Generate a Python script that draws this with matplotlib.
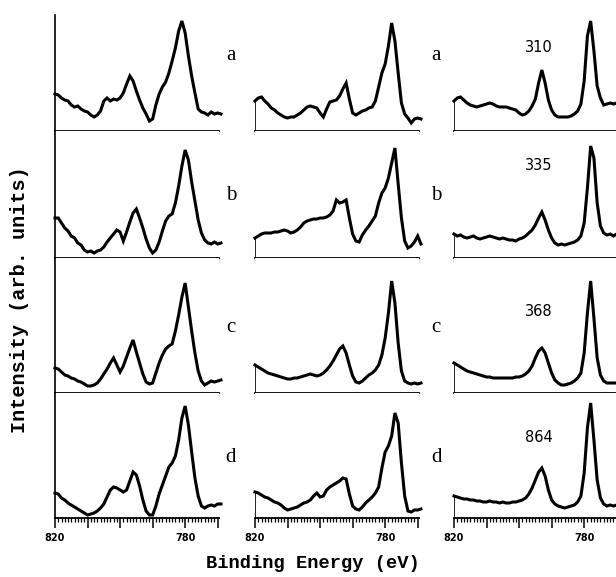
import numpy as np
import matplotlib.pyplot as plt
from matplotlib.ticker import FixedLocator, MultipleLocator, FuncFormatter

# binding energy grid, 1 eV steps (820 -> 769)
energy = np.arange(820, 768, -1)

# intensities (arb. units), rows a-d
col1_a = [37, 36, 33, 31, 30, 26, 24, 25, 22, 20, 19, 16, 14, 16, 20, 30, 33, 30, 32, 31,
          33, 38, 47, 55, 50, 40, 31, 23, 17, 10, 12, 26, 37, 44, 49, 58, 70, 83, 100, 110,
          98, 75, 55, 38, 22, 19, 18, 16, 19, 17, 18, 17]
col1_b = [40, 40, 35, 30, 27, 22, 20, 15, 13, 8, 6, 7, 5, 7, 8, 11, 16, 20, 24, 28,
          26, 17, 26, 36, 45, 49, 40, 30, 19, 10, 5, 8, 16, 27, 37, 42, 44, 55, 72, 92,
          108, 98, 76, 57, 38, 25, 18, 15, 14, 16, 14, 15]
col1_c = [25, 24, 21, 18, 17, 15, 14, 12, 11, 9, 7, 7, 8, 10, 14, 19, 24, 30, 35, 28,
          21, 27, 36, 45, 53, 41, 30, 19, 11, 9, 10, 20, 30, 38, 44, 47, 49, 62, 78, 96,
          110, 86, 62, 40, 22, 12, 8, 10, 12, 11, 12, 13]
col1_d = [25, 24, 20, 18, 15, 13, 11, 9, 7, 5, 3, 4, 5, 7, 10, 14, 21, 28, 31, 30,
          28, 26, 28, 37, 46, 43, 32, 18, 7, 3, 3, 12, 24, 33, 42, 51, 55, 62, 78, 100,
          112, 93, 66, 40, 22, 12, 10, 12, 13, 12, 14, 14]

col2_a = [30, 33, 34, 30, 27, 23, 21, 18, 16, 14, 13, 14, 14, 16, 18, 21, 24, 25, 24, 23,
          18, 14, 22, 29, 30, 31, 35, 42, 48, 32, 18, 16, 18, 20, 21, 23, 24, 30, 44, 58,
          67, 85, 108, 90, 58, 28, 17, 13, 8, 12, 13, 12]
col2_b = [20, 22, 24, 25, 25, 25, 26, 26, 27, 28, 27, 25, 26, 28, 31, 35, 37, 38, 39, 39,
          40, 40, 41, 43, 47, 58, 55, 56, 58, 40, 24, 17, 16, 23, 28, 32, 37, 42, 55, 65,
          70, 80, 95, 110, 74, 40, 17, 10, 12, 16, 22, 14]
col2_c = [28, 26, 24, 22, 20, 19, 18, 17, 16, 15, 14, 14, 15, 15, 16, 17, 18, 19, 18, 17,
          18, 20, 23, 27, 32, 38, 44, 47, 40, 28, 17, 11, 10, 12, 15, 18, 20, 23, 28, 38,
          55, 80, 112, 90, 50, 22, 12, 10, 9, 10, 9, 10]
col2_d = [26, 25, 23, 21, 20, 18, 16, 15, 13, 10, 8, 9, 10, 11, 13, 15, 16, 18, 22, 25,
          21, 22, 28, 31, 33, 35, 37, 40, 39, 24, 12, 9, 8, 11, 15, 18, 21, 25, 31, 50,
          66, 72, 82, 105, 95, 55, 22, 7, 6, 8, 8, 9]

col3_a = [30, 33, 34, 31, 28, 26, 25, 24, 25, 26, 27, 28, 27, 25, 24, 24, 24, 23, 22, 21,
          18, 16, 17, 20, 25, 32, 48, 61, 48, 31, 21, 16, 14, 14, 14, 14, 15, 17, 20, 27,
          50, 95, 110, 80, 45, 33, 26, 27, 28, 27, 28, 28]
col3_b = [24, 22, 23, 21, 20, 21, 22, 20, 19, 20, 21, 22, 21, 20, 19, 20, 19, 18, 18, 17,
          19, 20, 22, 25, 28, 33, 40, 46, 38, 28, 20, 15, 13, 14, 13, 14, 15, 16, 18, 22,
          35, 70, 112, 100, 55, 32, 25, 23, 24, 22, 24, 24]
col3_c = [30, 28, 26, 24, 22, 21, 20, 19, 18, 17, 16, 16, 15, 15, 15, 15, 15, 15, 15, 16,
          16, 17, 19, 22, 27, 35, 42, 45, 40, 30, 20, 13, 10, 8, 8, 9, 10, 12, 15, 20,
          40, 80, 112, 75, 35, 18, 12, 10, 10, 10, 10, 10]
col3_d = [22, 21, 20, 19, 19, 18, 18, 17, 17, 16, 16, 17, 16, 16, 15, 16, 15, 15, 16, 16,
          17, 18, 20, 24, 30, 38, 46, 50, 42, 28, 18, 14, 12, 11, 10, 11, 12, 13, 16, 22,
          45, 90, 115, 78, 38, 20, 14, 12, 13, 12, 13, 12]

columns = [[col1_a, col1_b, col1_c, col1_d],
           [col2_a, col2_b, col2_c, col2_d],
           [col3_a, col3_b, col3_c, col3_d]]
row_letters = ['a', 'b', 'c', 'd']
doses = ['310', '335', '368', '864']

W, H = 616, 577
fig = plt.figure(figsize=(W / 100, H / 100), dpi=100)

col_left = [55, 255, 454]
col_width = 164
baselines = [131, 258, 393, 518]
row_height = [116, 127, 135, 125]

for c, spectra in enumerate(columns):
    for r, spec in enumerate(spectra):
        ax = fig.add_axes([col_left[c] / W, (H - baselines[r]) / H,
                           col_width / W, row_height[r] / H])
        ax.plot(energy, spec, color='black', lw=2.2, clip_on=False,
                solid_joinstyle='miter')
        ax.set_xlim(820, 769.6)
        ax.set_ylim(0, row_height[r])
        for s in ['top', 'right']:
            ax.spines[s].set_visible(False)
        if c == 0:
            ax.spines['left'].set_linewidth(1.2)
            ax.spines['left'].set_color('black')
        else:
            ax.spines['left'].set_visible(False)
            ax.vlines(820, 0, spec[0], color='black', lw=1.2)
        ax.spines['bottom'].set_linewidth(1.3)
        ax.spines['bottom'].set_color('black')
        ax.set_yticks([])
        ax.xaxis.set_minor_locator(MultipleLocator(1))
        ax.tick_params(axis='x', which='minor', length=2.8, width=0.9,
                       color='black', direction='out')
        if r == 3:
            ax.xaxis.set_major_locator(FixedLocator([820, 810, 800, 790, 780, 770]))
            ax.xaxis.set_major_formatter(FuncFormatter(
                lambda v, p: '%d' % v if int(round(v)) in (820, 780) else ''))
            ax.tick_params(axis='x', which='major', length=7, width=1.1,
                           color='black', direction='out', pad=4, labelsize=7)
            for lab in ax.get_xticklabels():
                lab.set_fontweight('bold')
        else:
            ax.xaxis.set_major_locator(FixedLocator([]))
            ax.tick_params(axis='x', which='major', labelbottom=False)

letter_y = [56, 196, 328, 457]
for r in range(4):
    fig.text(231 / W, 1 - letter_y[r] / H, row_letters[r], family='Liberation Serif',
             fontsize=15, ha='center', va='center')
    fig.text(436 / W, 1 - letter_y[r] / H, row_letters[r], family='Liberation Serif',
             fontsize=15, ha='center', va='center')

dose_y = [47, 166, 312, 438]
for r in range(4):
    fig.text(539 / W, 1 - dose_y[r] / H, doses[r], family='DejaVu Sans',
             fontsize=10.5, ha='center', va='center')

fig.text(313 / W, 1 - 563 / H, 'Binding Energy (eV)', family='Liberation Mono',
         fontweight='bold', fontsize=13.5, ha='center', va='center')
fig.text(20 / W, 1 - 300 / H, 'Intensity (arb. units)', family='Liberation Mono',
         fontweight='bold', fontsize=14.5, ha='center', va='center', rotation=90)

fig.savefig('out.png', dpi=100)
